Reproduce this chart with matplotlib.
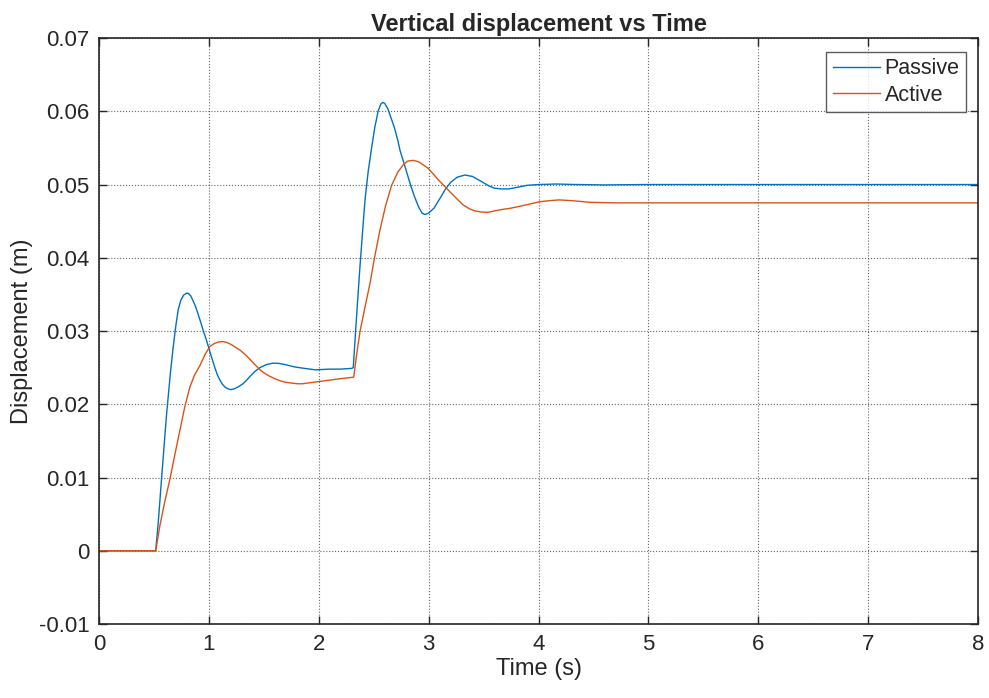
import numpy as np
import matplotlib.pyplot as plt

plt.rcParams['font.family'] = ['Liberation Sans', 'DejaVu Sans']
plt.rcParams['text.color'] = '#262626'
plt.rcParams['axes.labelcolor'] = '#262626'
plt.rcParams['xtick.color'] = '#262626'
plt.rcParams['ytick.color'] = '#262626'

# passive suspension response (time in s, displacement in m)
t_passive = [0, 0.516, 0.54, 0.57, 0.616, 0.65, 0.676, 0.70, 0.722, 0.745, 0.77, 0.795,
             0.813, 0.835, 0.86, 0.88, 0.904, 0.93, 0.95, 0.975, 0.995, 1.025, 1.05, 1.075,
             1.10, 1.125, 1.15, 1.175, 1.198, 1.23, 1.27, 1.31, 1.344, 1.38, 1.42, 1.465,
             1.52, 1.577, 1.63, 1.70, 1.78, 1.87, 1.97, 2.10, 2.20, 2.30, 2.314,
             2.335, 2.355, 2.375, 2.40, 2.421, 2.45, 2.481, 2.51, 2.54, 2.565, 2.582, 2.60,
             2.63, 2.66, 2.69, 2.72, 2.739, 2.79, 2.83, 2.87, 2.91, 2.94, 2.966, 3.00,
             3.05, 3.103, 3.15, 3.20, 3.26, 3.33, 3.40, 3.47, 3.55, 3.60, 3.66, 3.73,
             3.80, 3.90, 4.00, 4.16, 4.35, 4.60, 5.00, 8.00]
y_passive = [0, 0, 0.0040, 0.0100, 0.0188, 0.0243, 0.0279, 0.0308, 0.0330, 0.0342, 0.0349, 0.03515,
             0.03515, 0.0348, 0.0340, 0.0333, 0.0322, 0.0310, 0.0300, 0.0289, 0.0279, 0.0264, 0.0252, 0.0241,
             0.0233, 0.0227, 0.0223, 0.0221, 0.0220, 0.0221, 0.0224, 0.0228, 0.0233, 0.0239, 0.0245, 0.0250,
             0.0254, 0.0256, 0.0256, 0.0254, 0.0251, 0.0249, 0.0247, 0.0248, 0.0248, 0.0249, 0.0250,
             0.0299, 0.0344, 0.0388, 0.0438, 0.0479, 0.0518, 0.0550, 0.0578, 0.0600, 0.0610, 0.0612, 0.0611,
             0.0603, 0.0590, 0.0577, 0.0560, 0.0547, 0.0522, 0.0502, 0.0484, 0.0469, 0.0461, 0.0459, 0.0461,
             0.0468, 0.0481, 0.0493, 0.0503, 0.0510, 0.0513, 0.0511, 0.0505, 0.0498, 0.0495, 0.0494, 0.0494,
             0.0496, 0.0499, 0.0500, 0.05007, 0.0500, 0.04995, 0.0500, 0.0500]

# active suspension response
t_active = [0, 0.516, 0.555, 0.60, 0.646, 0.69, 0.737, 0.78, 0.828, 0.87, 0.919, 0.965,
            1.01, 1.05, 1.09, 1.131, 1.17, 1.21, 1.25, 1.283, 1.33, 1.37, 1.42, 1.465,
            1.51, 1.556, 1.60, 1.65, 1.70, 1.75, 1.805, 1.85, 1.90, 2.00, 2.10, 2.20,
            2.318, 2.345, 2.375, 2.42, 2.466, 2.51, 2.557, 2.61, 2.663, 2.72, 2.769, 2.81,
            2.86, 2.91, 2.96, 2.997, 3.05, 3.103, 3.15, 3.20, 3.26, 3.315, 3.37, 3.42,
            3.48, 3.54, 3.60, 3.67, 3.74, 3.82, 3.91, 4.01, 4.10, 4.19, 4.30, 4.47,
            4.70, 5.00, 8.00]
y_active = [0, 0, 0.0035, 0.0068, 0.0098, 0.0131, 0.0165, 0.0196, 0.0224, 0.0240, 0.0253, 0.0268,
            0.0279, 0.0283, 0.02852, 0.02855, 0.0284, 0.0281, 0.0277, 0.0274, 0.0268, 0.0262, 0.0254, 0.0247,
            0.0242, 0.0238, 0.0235, 0.0232, 0.0230, 0.0229, 0.0228, 0.0228, 0.0229, 0.0231, 0.0233, 0.0235,
            0.0237, 0.0268, 0.0299, 0.0332, 0.0365, 0.0402, 0.0438, 0.0472, 0.0499, 0.0517, 0.0527, 0.0532,
            0.0533, 0.0531, 0.0526, 0.0522, 0.0513, 0.0504, 0.0497, 0.0489, 0.0480, 0.0472, 0.0467, 0.0464,
            0.04625, 0.0462, 0.0464, 0.0466, 0.04675, 0.0470, 0.0473, 0.04765, 0.0478, 0.0479, 0.0478, 0.04757,
            0.0475, 0.0475, 0.0475]

fig = plt.figure(figsize=(9.89, 6.98), dpi=100)
ax = fig.add_axes([0.1001, 0.106, 0.8888, 0.8395])

ax.plot(t_passive, y_passive, color='#0072BD', linewidth=1.0, label='Passive')
ax.plot(t_active, y_active, color='#D95319', linewidth=1.0, label='Active')

ax.set_xlim(0, 8)
ax.set_ylim(-0.01, 0.07)
ax.set_xticks(np.arange(0, 9, 1))
ax.set_yticks(np.arange(-0.01, 0.0701, 0.01))
ax.set_yticklabels(['-0.01', '0', '0.01', '0.02', '0.03', '0.04', '0.05', '0.06', '0.07'])
ax.tick_params(direction='in', top=True, right=True, labelsize=16, length=6, width=1.0, pad=7)
ax.grid(True, linestyle=':', color='#262626', linewidth=0.8, alpha=0.7)
for s in ax.spines.values():
    s.set_linewidth(1.2)
    s.set_color('#262626')

ax.set_title('Vertical displacement vs Time', fontsize=17, fontweight='bold', pad=5)
ax.set_xlabel('Time (s)', fontsize=17, labelpad=2)
ax.set_ylabel('Displacement (m)', fontsize=17, labelpad=4)

leg = ax.legend(loc='upper right', fontsize=15.5, frameon=True, fancybox=False,
                handlelength=2.2, handletextpad=0.2, borderpad=0.3, labelspacing=0.25,
                bbox_to_anchor=(966 / 989, 1 - 52 / 698), bbox_transform=fig.transFigure,
                borderaxespad=0)
leg.get_frame().set_edgecolor('#333333')
leg.get_frame().set_linewidth(1.0)

fig.savefig('out.png', dpi=100)
